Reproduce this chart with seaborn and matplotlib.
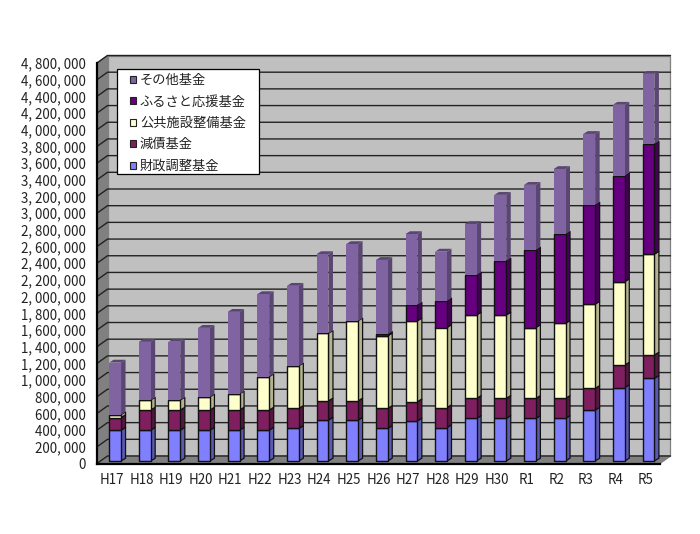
import matplotlib

matplotlib.use("Agg")
import matplotlib.pyplot as plt
import numpy as np
import seaborn as sns
from matplotlib.patches import Patch, Polygon, Rectangle
from matplotlib.transforms import Affine2D, IdentityTransform

years = ["H17", "H18", "H19", "H20", "H21", "H22", "H23", "H24", "H25", "H26",
         "H27", "H28", "H29", "H30", "R1", "R2", "R3", "R4", "R5"]
zaisei = [370, 370, 370, 370, 370, 370, 390, 490, 490, 390,
          480, 400, 510, 510, 510, 510, 610, 880, 990]
gensai = [150, 240, 240, 240, 240, 240, 240, 230, 230, 240,
          230, 240, 240, 240, 240, 240, 260, 270, 280]
kokyo = [35, 120, 120, 158, 194, 400, 510, 810, 960, 870,
         970, 960, 1000, 1000, 850, 900, 1010, 1000, 1210]
furusato = [0, 0, 0, 0, 0, 0, 0, 0, 0, 20,
            190, 320, 480, 650, 930, 1070, 1190, 1270, 1320]
sonota = [625, 698, 700, 828, 984, 990, 960, 950, 920, 890,
          850, 590, 610, 790, 780, 780, 850, 850, 840]
names = ["財政調整基金", "減債基金", "公共施設整備基金", "ふるさと応援基金", "その他基金"]
front_colors = ["#8080FF", "#7F1F5F", "#FFFFCC", "#660080", "#8064A2"]
side_colors = ["#5A5AB3", "#591643", "#B3B38F", "#47005A", "#5A4672"]
y_ticks = np.arange(0, 4800001, 200000)

series = [zaisei, gensai, kokyo, furusato, sonota]

sns.set_theme(style="white")
plt.rcParams["font.family"] = ["Noto Sans CJK JP", "DejaVu Sans"]

W, H = 700, 534
fig = plt.figure(figsize=(W / 100, H / 100), dpi=100, facecolor="white")
# front plane of the fake 3D box, in pixels
left, right, top, bottom = 97, 660, 63, 463.5
ax = fig.add_axes([left / W, 1 - bottom / H, (right - left) / W, (bottom - top) / H])
ax.patch.set_visible(False)

# Stacked bars through seaborn
base = np.zeros(len(years))
bar_shift = Affine2D().translate(3.3, 2.5)
for vals, name, col in zip(series, names, front_colors):
    vals = np.array(vals) * 1000.0
    n_before = len(ax.patches)
    sns.barplot(x=years, y=vals, bottom=base, color=col, width=0.4, saturation=1,
                ax=ax, zorder=5, linewidth=1.0,
                edgecolor="none" if name == "その他基金" else "#111111")
    for p in ax.patches[n_before:]:
        p.set_transform(ax.transData + bar_shift)
    base = base + vals

ax.set_xlim(-0.5, 18.5)
ax.set_ylim(0, 4800000)
fig.canvas.draw()


def px(x, v):
    return ax.transData.transform((x, v))


def poly(points, color, edge="none", z=1):
    ax.add_patch(Polygon(points, closed=True, facecolor=color, edgecolor=edge, linewidth=0.9,
                         transform=IdentityTransform(), clip_on=False, zorder=z))


# Box walls
dx, dy = 10.5, 7.5
p00 = px(-0.5, 0)
p10 = px(18.5, 0)
p01 = px(-0.5, 4800000)
p11 = px(18.5, 4800000)
d = np.array([dx, dy])
poly([p00 + d, p10 + d, p11 + d, p01 + d], "#C0C0C0", "#808080", 0.5)
poly([p00, p00 + d, p01 + d, p01], "#808080", "#808080", 0.6)
poly([p00, p10, p10 + d, p00 + d], "#808080", "#808080", 0.6)
for v in y_ticks:
    a = px(-0.5, v)
    b = px(18.5, v)
    ax.plot([a[0], a[0] + dx, b[0] + dx], [a[1], a[1] + dy, b[1] + dy], color="#222222", lw=1.0,
            transform=IdentityTransform(), clip_on=False, zorder=1)

# Side and top faces of each bar
depth = np.array([4.5, 2.8])
shift = np.array([3.3, 2.5])
for i in range(len(years)):
    low = 0.0
    for k, (vals, col) in enumerate(zip(series, side_colors)):
        high = low + vals[i] * 1000.0
        if vals[i] > 0:
            a = px(i + 0.2, low) + shift
            b = px(i + 0.2, high) + shift
            edge = "none" if k == 4 else "#111111"
            poly([a, a + depth, b + depth, b], col, edge, 4)
        low = high
    a = px(i - 0.2, low) + shift
    b = px(i + 0.2, low) + shift
    poly([a, b, b + depth, a + depth], side_colors[4], "none", 4)

# Axes cosmetics
ax.set_yticks(y_ticks)
ax.set_yticklabels([f"{v:,}".replace(",", ", ") for v in y_ticks], fontsize=9.6, color="#222222")
ax.set_xticks(range(len(years)))
ax.set_xticklabels(years, fontsize=9.6, color="#222222")
ax.set_xticks(np.arange(-0.5, 19, 1), minor=True)
ax.tick_params(axis="x", which="major", length=0, pad=6.5)
ax.tick_params(axis="x", which="minor", length=3, direction="in", width=0.9, color="black")
ax.tick_params(axis="y", which="major", length=0, pad=8)
for side in ["top", "right"]:
    ax.spines[side].set_visible(False)
for side in ["left", "bottom"]:
    ax.spines[side].set_color("black")
    ax.spines[side].set_linewidth(1.6)
    ax.spines[side].set_zorder(6)

# Legend box is a fixed white rectangle, entries sit inside it without a frame
fig.add_artist(Rectangle((117 / W, 1 - 174 / H), 142 / W, 105 / H, transform=fig.transFigure,
                         facecolor="white", edgecolor="black", linewidth=0.9, zorder=9))
handles = [Patch(facecolor=c, edgecolor="#222222", linewidth=0.8)
           for c in front_colors[::-1]]
leg = fig.legend(handles, names[::-1], loc="upper left",
                 bbox_to_anchor=(130 / W, 1 - 74 / H), bbox_transform=fig.transFigure,
                 fontsize=9.5, frameon=False, borderaxespad=0, borderpad=0,
                 handlelength=0.45, handleheight=0.45, handletextpad=0.3,
                 labelspacing=0.64, labelcolor="#222222")
leg.set_zorder(10)

fig.savefig("out.png", dpi=100)
